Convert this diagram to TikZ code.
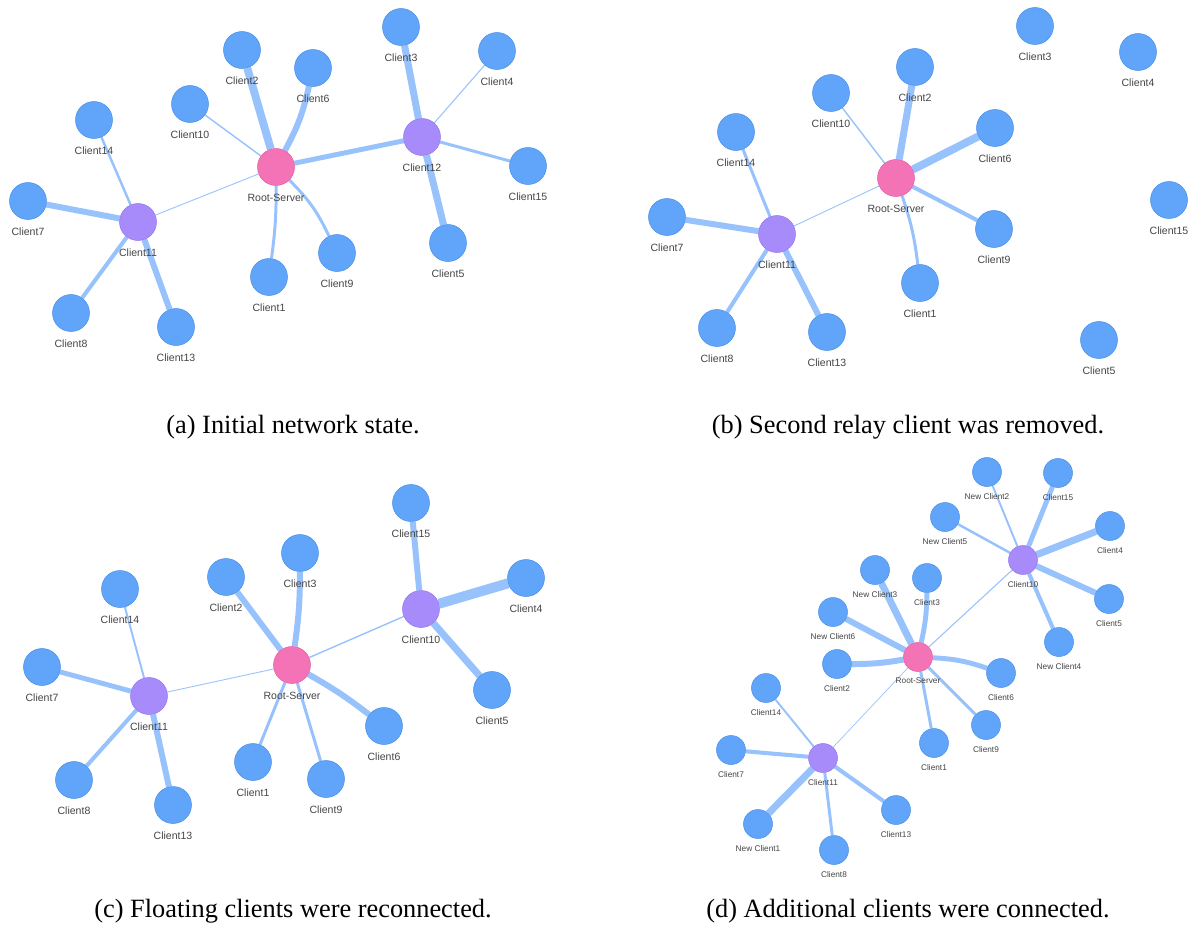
\documentclass[tikz,border=0pt]{standalone}
\usepackage{fontspec}
\setmainfont{Liberation Serif}
\setsansfont{Liberation Sans}
\definecolor{clientblue}{HTML}{60A5FA}
\definecolor{clientline}{HTML}{4A90E8}
\definecolor{relaypurple}{HTML}{A78BFA}
\definecolor{relayline}{HTML}{9676EE}
\definecolor{serverpink}{HTML}{F472B6}
\definecolor{serverline}{HTML}{E45FA3}
\definecolor{edgeblue}{HTML}{97C2FC}
\definecolor{labelgray}{HTML}{444444}
\pgfdeclarelayer{edges}
\pgfsetlayers{edges,main}
\tikzset{
  tag/.style={font=\sffamily\fontsize{6}{7}\selectfont,text=labelgray,inner sep=0pt,label distance=4.3pt},
  client/.style={circle,fill=clientblue,draw=clientline,line width=0.3pt,minimum size=0.74cm,inner sep=0pt,label={[tag]below:#1}},
  relay/.style={client=#1,fill=relaypurple,draw=relayline},
  server/.style={client=#1,fill=serverpink,draw=serverline},
  link/.style={draw=edgeblue,line width=#1},
  caption/.style={font=\fontsize{15}{18}\selectfont,inner sep=0pt}
}
\begin{document}
\begin{tikzpicture}[x=0.02cm,y=-0.02cm]
  \useasboundingbox (0,0) rectangle (1191,924);
  % (a)
  \node[server=Root-Server] (aroot) at (276,167) {};
  \node[relay=Client12] (a12) at (422,137) {};
  \node[relay=Client11] (a11) at (138,222) {};
  \node[client=Client3] (a3) at (401,27) {};
  \node[client=Client4] (a4) at (497,51) {};
  \node[client=Client2] (a2) at (242,50) {};
  \node[client=Client6] (a6) at (313,68) {};
  \node[client=Client10] (a10) at (190,104) {};
  \node[client=Client14] (a14) at (94,120) {};
  \node[client=Client7] (a7) at (28,201) {};
  \node[client=Client8] (a8) at (71,313) {};
  \node[client=Client13] (a13) at (176,327) {};
  \node[client=Client1] (a1) at (269,277) {};
  \node[client=Client9] (a9) at (337,253) {};
  \node[client=Client5] (a5) at (448,243) {};
  \node[client=Client15] (a15) at (528,166) {};
  \begin{pgfonlayer}{edges}
    \foreach \u/\v/\w in {aroot/a2/4.5, aroot/a10/0.8, aroot/a11/0.5, aroot/a12/2.8,
      a12/a3/4, a12/a4/0.6, a12/a15/1.7, a12/a5/4,
      a11/a14/1.4, a11/a7/3.4, a11/a8/2.3, a11/a13/3.4}
      \draw[link=\w pt] (\u) -- (\v);
    \draw[link=3.4pt] (aroot) to[bend right=8] (a6);
    \draw[link=1.7pt] (aroot) to[bend left=4] (a1);
    \draw[link=1.7pt] (aroot) to[bend left=10] (a9);
  \end{pgfonlayer}
  \node[caption] (capa) at (293,427) {(a) Initial network state.};
  % (b)
  \node[server=Root-Server] (broot) at (896,178) {};
  \node[relay=Client11] (b11) at (777,234) {};
  \node[client=Client3] (b3) at (1035,26) {};
  \node[client=Client4] (b4) at (1138,52) {};
  \node[client=Client2] (b2) at (915,67) {};
  \node[client=Client10] (b10) at (831,93) {};
  \node[client=Client14] (b14) at (736,132) {};
  \node[client=Client6] (b6) at (995,128) {};
  \node[client=Client7] (b7) at (667,217) {};
  \node[client=Client9] (b9) at (994,229) {};
  \node[client=Client1] (b1) at (920,283) {};
  \node[client=Client8] (b8) at (717,328) {};
  \node[client=Client13] (b13) at (827,332) {};
  \node[client=Client15] (b15) at (1169,200) {};
  \node[client=Client5] (b5) at (1099,340) {};
  \begin{pgfonlayer}{edges}
    \foreach \u/\v/\w in {broot/b10/0.8, broot/b2/4, broot/b6/4.5, broot/b9/2.3, broot/b11/0.5,
      b11/b14/1.7, b11/b7/3.4, b11/b8/2.3, b11/b13/3.4}
      \draw[link=\w pt] (\u) -- (\v);
    \draw[link=1.7pt] (broot) to[bend left=6] (b1);
  \end{pgfonlayer}
  \node[caption] (capb) at (908,427) {(b) Second relay client was removed.};
  % (c)
  \node[server=Root-Server] (croot) at (292,665) {};
  \node[relay=Client10] (c10) at (421,609) {};
  \node[relay=Client11] (c11) at (149,696) {};
  \node[client=Client15] (c15) at (411,503) {};
  \node[client=Client4] (c4) at (526,578) {};
  \node[client=Client5] (c5) at (492,690) {};
  \node[client=Client3] (c3) at (300,553) {};
  \node[client=Client2] (c2) at (226,577) {};
  \node[client=Client14] (c14) at (120,589) {};
  \node[client=Client7] (c7) at (42,667) {};
  \node[client=Client8] (c8) at (74,780) {};
  \node[client=Client13] (c13) at (173,805) {};
  \node[client=Client1] (c1) at (253,762) {};
  \node[client=Client9] (c9) at (326,779) {};
  \node[client=Client6] (c6) at (384,726) {};
  \begin{pgfonlayer}{edges}
    \foreach \u/\v/\w in {croot/c2/3.4, croot/c10/0.8, croot/c11/0.5, croot/c9/1.7, croot/c1/1.7,
      c10/c15/3.4, c10/c4/5.7, c10/c5/4,
      c11/c14/1.1, c11/c7/2.8, c11/c8/2.3, c11/c13/3.4}
      \draw[link=\w pt] (\u) -- (\v);
    \draw[link=3.4pt] (croot) to[bend right=4] (c3);
    \draw[link=3.4pt] (croot) to[bend left=4] (c6);
  \end{pgfonlayer}
  \node[caption] (capc) at (293,911) {(c) Floating clients were reconnected.};
  % (d)
  \begin{scope}[tag/.style={font=\sffamily\fontsize{4.7}{5.5}\selectfont,text=labelgray,inner sep=0pt,label distance=3.4pt},
      client/.append style={minimum size=0.58cm}]
    \node[server=Root-Server] (droot) at (918,657) {};
    \node[relay=Client10] (d10) at (1023,560) {};
    \node[relay=Client11] (d11) at (823,758) {};
    \node[client=New Client2] (dn2) at (987,472) {};
    \node[client=Client15] (d15) at (1058,473) {};
    \node[client=New Client5] (dn5) at (945,517) {};
    \node[client=Client4] (d4) at (1110,526) {};
    \node[client=Client5] (d5) at (1109,599) {};
    \node[client=New Client4] (dn4) at (1059,642) {};
    \node[client=New Client3] (dn3) at (875,570) {};
    \node[client=Client3] (d3) at (927,578) {};
    \node[client=New Client6] (dn6) at (833,612) {};
    \node[client=Client2] (d2) at (837,664) {};
    \node[client=Client6] (d6) at (1001,673) {};
    \node[client=Client9] (d9) at (986,725) {};
    \node[client=Client1] (d1) at (934,743) {};
    \node[client=Client14] (d14) at (766,688) {};
    \node[client=Client7] (d7) at (731,750) {};
    \node[client=New Client1] (dn1) at (758,824) {};
    \node[client=Client8] (d8) at (834,850) {};
    \node[client=Client13] (d13) at (896,810) {};
  \end{scope}
  \begin{pgfonlayer}{edges}
    \foreach \u/\v/\w in {droot/dn3/4, droot/dn6/3.4, droot/d9/1.7, droot/d1/1.7, droot/d10/0.6, droot/d11/0.4,
      d10/dn2/1.1, d10/d15/2.8, d10/dn5/1.4, d10/d4/4, d10/d5/3.4, d10/dn4/2.3,
      d11/d14/1.1, d11/d7/2.3, d11/dn1/4, d11/d8/1.7, d11/d13/2.3}
      \draw[link=\w pt] (\u) -- (\v);
    \draw[link=2.8pt] (droot) to[bend right=6] (d3);
    \draw[link=3.4pt] (droot) to[bend left=5] (d2);
    \draw[link=2.8pt] (droot) to[bend left=8] (d6);
  \end{pgfonlayer}
  \node[caption] (capd) at (908,911) {(d) Additional clients were connected.};
\end{tikzpicture}
\end{document}
